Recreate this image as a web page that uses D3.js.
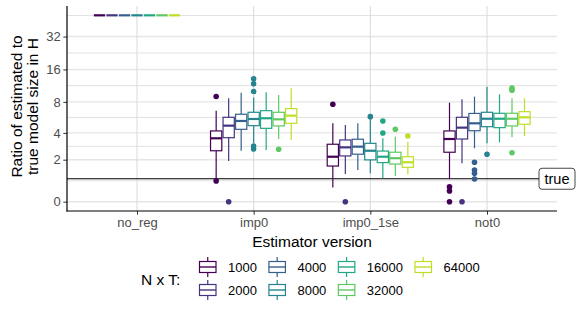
<!DOCTYPE html>
<html>
<head>
<meta charset="utf-8">
<script src="https://cdn.jsdelivr.net/npm/d3@7"></script>
<style>
  body { margin: 0; background: #fff; }
  text { font-family: "Liberation Sans", Arial, sans-serif; }
</style>
</head>
<body>
<div id="chart"></div>
<script>
// categories and series
const groups = ["no_reg", "imp0", "imp0_1se", "not0"];
const sizes = ["1000", "2000", "4000", "8000", "16000", "32000", "64000"];
const yBreaks = [0, 2, 4, 8, 16, 32];
const trueRatio = 1;

// box stats per size: [lower whisker, q1, median, q3, upper whisker]
const noRegStats = [
  [50, 50, 50, 50, 50], [50, 50, 50, 50, 50], [50, 50, 50, 50, 50], [50, 50, 50, 50, 50],
  [50, 50, 50, 50, 50], [50, 50, 50, 50, 50], [50, 50, 50, 50, 50]
];
const imp0Stats = [
  [0.94, 2.57, 3.52, 4.19, 6.61],
  [1.92, 3.57, 4.73, 5.71, 8.65],
  [2.57, 4.35, 5.26, 6.11, 9.76],
  [3.14, 4.73, 5.50, 6.38, 8.80],
  [2.62, 4.45, 5.59, 6.61, 9.84],
  [3.46, 4.70, 5.46, 6.38, 9.28],
  [3.38, 4.99, 5.92, 6.91, 10.72]
];
const imp01seStats = [
  [0.60, 1.64, 2.18, 3.04, 4.99],
  [1.23, 2.23, 2.81, 3.38, 4.80],
  [1.43, 2.34, 2.86, 3.44, 4.99],
  [1.26, 1.99, 2.57, 3.11, 5.46],
  [1.02, 1.83, 2.18, 2.55, 3.52],
  [1.13, 1.75, 2.09, 2.47, 3.66],
  [1.22, 1.57, 1.85, 2.18, 3.24]
];
const not0Stats = [
  [0.98, 2.47, 3.46, 4.19, 7.87],
  [1.79, 3.46, 4.52, 5.71, 8.47],
  [2.74, 4.21, 4.99, 6.22, 8.96],
  [3.11, 4.62, 5.53, 6.38, 11.07],
  [3.19, 4.52, 5.53, 6.24, 9.43],
  [3.61, 4.70, 5.53, 6.24, 8.65],
  [3.72, 4.88, 5.71, 6.47, 8.65]
];

// outliers per size
const noRegOut = [[], [], [], [], [], [], []];
const imp0Out = [[9.0, 0.9], [0], [], [13.1, 11.8, 10.0, 2.9, 2.7], [], [2.67], []];
const imp01seOut = [[7.6], [0], [], [5.79], [5.26, 3.99], [4.35], [3.72]];
const not0Out = [[0.63, 0.45, 0], [0], [1.85, 1.43, 1.26, 0.99], [2.34], [], [10.8, 10.3, 2.44], []];

const allStats = [noRegStats, imp0Stats, imp01seStats, not0Stats];
const allOut = [noRegOut, imp0Out, imp01seOut, not0Out];

const W = 581, H = 309;
const px0 = 67, px1 = 557, py0 = 6, py1 = 211;

const svg = d3.select("#chart").append("svg")
    .attr("width", W)
    .attr("height", H);

// pseudo-log transform
const tf = v => Math.asinh(v / 2);
const allVals = allStats.flat(2).concat(allOut.flat(2));
const tLo = tf(d3.min(allVals)), tHi = tf(d3.max(allVals));
const pad = (tHi - tLo) * 0.05;

const y = d3.scaleLinear().domain([tLo - pad, tHi + pad]).range([py1, py0]);
const yv = v => y(tf(v));

const x = d3.scalePoint().domain(groups).range([px0, px1]).padding(0.6);
const color = d3.scaleOrdinal().domain(sizes)
    .range(sizes.map((d, i) => d3.interpolateViridis(i / 6 * 0.9)));

const slot = x.step() * 0.75 / sizes.length;
const boxW = slot * 0.9;

// grid
const majorT = yBreaks.map(tf);
const d0 = majorT[1] - majorT[0];
const minorT = [majorT[0] - d0 / 2]
  .concat(d3.pairs(majorT).map(([a, b]) => (a + b) / 2))
  .concat([majorT[majorT.length - 1] + d0 / 2])
  .filter(t => t >= y.domain()[0] && t <= y.domain()[1]);

const grid = svg.append("g");
grid.selectAll("line.minor")
  .data(minorT)
  .join("line")
    .attr("x1", px0).attr("x2", px1)
    .attr("y1", d => y(d)).attr("y2", d => y(d))
    .attr("stroke", "#d4d4d4").attr("stroke-width", 0.7);
grid.selectAll("line.major")
  .data(majorT)
  .join("line")
    .attr("x1", px0).attr("x2", px1)
    .attr("y1", d => y(d)).attr("y2", d => y(d))
    .attr("stroke", "#e6e6e6").attr("stroke-width", 1.4);
grid.selectAll("line.vmajor")
  .data(groups)
  .join("line")
    .attr("x1", d => x(d)).attr("x2", d => x(d))
    .attr("y1", py0).attr("y2", py1)
    .attr("stroke", "#d9d9d9").attr("stroke-width", 1);

// reference line at true size
svg.append("line")
    .attr("x1", px0).attr("x2", px1)
    .attr("y1", yv(trueRatio)).attr("y2", yv(trueRatio))
    .attr("stroke", "#000").attr("stroke-width", 1.1);

// boxplots
const boxes = [];
groups.forEach((g, gi) => {
  sizes.forEach((s, si) => {
    boxes.push({ g, s, si, st: allStats[gi][si], out: allOut[gi][si] });
  });
});
const cxOf = d => x(d.g) + (d.si - (sizes.length - 1) / 2) * slot;

const bg = svg.append("g").selectAll("g")
  .data(boxes)
  .join("g")
    .attr("stroke", d => color(d.s))
    .attr("fill", "none");

bg.append("line")
    .attr("x1", cxOf).attr("x2", cxOf)
    .attr("y1", d => yv(d.st[0])).attr("y2", d => yv(d.st[1]))
    .attr("stroke-width", 1.2);
bg.append("line")
    .attr("x1", cxOf).attr("x2", cxOf)
    .attr("y1", d => yv(d.st[3])).attr("y2", d => yv(d.st[4]))
    .attr("stroke-width", 1.2);
bg.append("rect")
    .attr("x", d => cxOf(d) - boxW / 2)
    .attr("width", boxW)
    .attr("y", d => yv(d.st[3]))
    .attr("height", d => yv(d.st[1]) - yv(d.st[3]))
    .attr("fill", "#fff")
    .attr("stroke-width", 1.2);
bg.append("line")
    .attr("x1", d => cxOf(d) - boxW / 2).attr("x2", d => cxOf(d) + boxW / 2)
    .attr("y1", d => yv(d.st[2])).attr("y2", d => yv(d.st[2]))
    .attr("stroke-width", 2.2);
bg.selectAll("circle")
  .data(d => d.out.map(v => ({ v, d })))
  .join("circle")
    .attr("cx", o => cxOf(o.d))
    .attr("cy", o => yv(o.v))
    .attr("r", 2.8)
    .attr("stroke", "none")
    .attr("fill", o => color(o.d.s));

// axes
const yAxis = svg.append("g")
    .attr("transform", `translate(${px0},0)`)
    .call(d3.axisLeft(y).tickValues(majorT).tickSize(3.7).tickPadding(2.5)
      .tickFormat((t, i) => yBreaks[i]));
const xAxis = svg.append("g")
    .attr("transform", `translate(0,${py1})`)
    .call(d3.axisBottom(x).tickSize(3.7).tickPadding(3));
[yAxis, xAxis].forEach(a => {
  a.select(".domain").remove();
  a.selectAll(".tick line").attr("stroke", "#333").attr("stroke-width", 1);
  a.selectAll(".tick text").attr("fill", "#4d4d4d").style("font-size", "13px");
});

svg.append("line")
    .attr("x1", px0).attr("x2", px0).attr("y1", py0).attr("y2", py1 + 0.5)
    .attr("stroke", "#000").attr("stroke-width", 1.2);
svg.append("line")
    .attr("x1", px0 - 0.5).attr("x2", px1).attr("y1", py1).attr("y2", py1)
    .attr("stroke", "#000").attr("stroke-width", 1.2);

// true label
const lab = svg.append("g")
    .attr("transform", `translate(${px1},${yv(trueRatio)})`);
lab.append("rect")
    .attr("x", -18).attr("y", -10.5)
    .attr("width", 36).attr("height", 21)
    .attr("rx", 3)
    .attr("fill", "#fff").attr("stroke", "#333").attr("stroke-width", 0.9);
lab.append("text")
    .attr("text-anchor", "middle")
    .attr("dy", "0.36em")
    .style("font-size", "14.5px")
    .text("true");

// titles
svg.append("text")
    .attr("x", (px0 + px1) / 2)
    .attr("y", 247)
    .attr("text-anchor", "middle")
    .style("font-size", "15.5px")
    .text("Estimator version");

const yt = svg.append("text")
    .attr("transform", `translate(0,${(py0 + py1) / 2 - 2}) rotate(-90)`)
    .attr("text-anchor", "middle")
    .style("font-size", "15.5px");
yt.append("tspan").attr("x", 0).attr("y", 22).text("Ratio of estimated to");
yt.append("tspan").attr("x", 0).attr("y", 38).text("true model size in H");

// legend
const leg = svg.append("g");
leg.append("text")
    .attr("x", 141).attr("y", 279)
    .attr("dy", "0.36em")
    .style("font-size", "15.5px")
    .text("N x T:");

const keyW = 17.5, rowH = 23;
let colX = 199;
const rows = 2;
const nCols = Math.ceil(sizes.length / rows);
for (let c = 0; c < nCols; c++) {
  let maxW = 0;
  for (let r = 0; r < rows; r++) {
    const i = c * rows + r;
    if (i >= sizes.length) break;
    const cy = 267 + r * rowH;
    const k = leg.append("g")
        .attr("transform", `translate(${colX},${cy})`)
        .attr("stroke", color(sizes[i]))
        .attr("fill", "none");
    k.append("line").attr("x1", keyW / 2).attr("x2", keyW / 2)
        .attr("y1", -10).attr("y2", 10).attr("stroke-width", 1.2);
    k.append("rect").attr("x", 0.5).attr("y", -5.5)
        .attr("width", keyW - 1).attr("height", 11)
        .attr("fill", "#fff").attr("stroke-width", 1.2);
    k.append("line").attr("x1", 0.5).attr("x2", keyW - 0.5)
        .attr("y1", 0).attr("y2", 0).attr("stroke-width", 1.4);
    const t = leg.append("text")
        .attr("x", colX + keyW + 11.5).attr("y", cy)
        .attr("dy", "0.36em")
        .style("font-size", "13px")
        .text(sizes[i]);
    maxW = Math.max(maxW, t.node().getComputedTextLength());
  }
  colX += keyW + 11.5 + maxW + 11.5;
}
</script>
</body>
</html>
